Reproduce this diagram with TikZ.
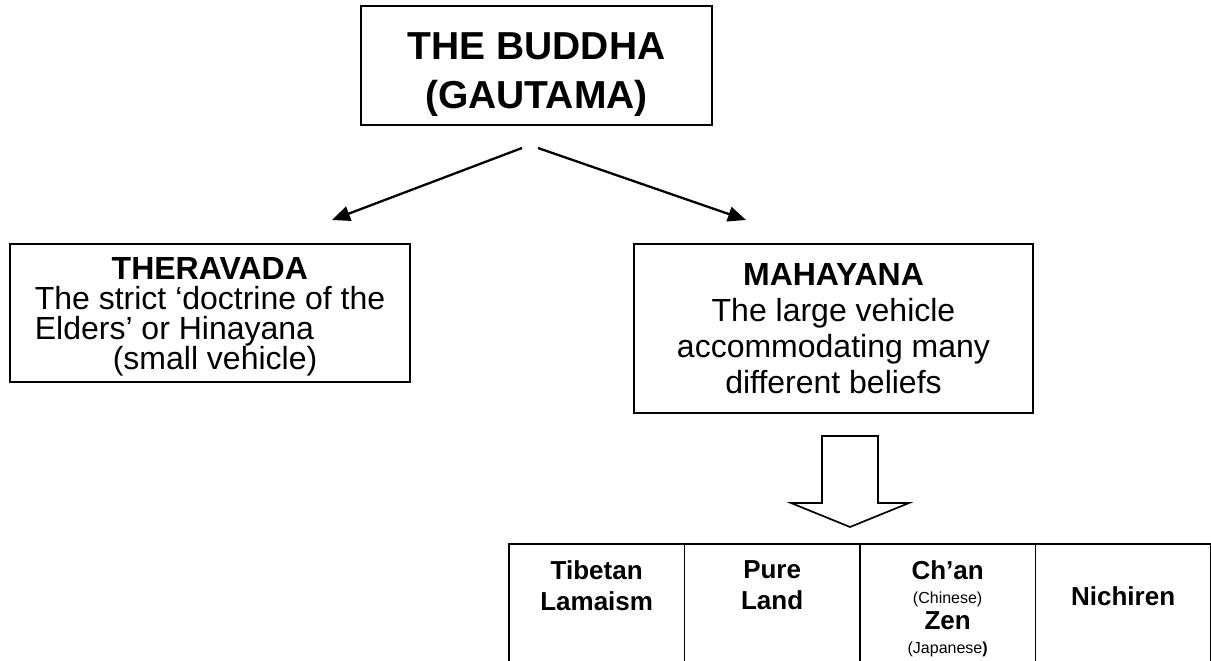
\documentclass[tikz,border=0pt]{standalone}
\usepackage{fontspec}
\setmainfont{Liberation Sans}
\usetikzlibrary{arrows.meta}
\newcommand\tightlines{\lineskiplimit -50pt\relax}

\begin{document}
\begin{tikzpicture}[x=1pt, y=-1pt,
    box/.style={draw, line width=1.6pt, inner sep=0pt, align=center},
    body/.style={inner sep=0pt, font=\fontsize{32}{36}\selectfont\tightlines},
    branch/.style={line width=2.3pt, -{Triangle[length=18pt, width=15pt]}},
    cell/.style={draw, line width=1.8pt, minimum width=175.5pt, minimum height=140pt, anchor=north west, inner sep=0pt},
    celltext/.style={anchor=north, align=center, inner sep=0pt, font=\fontsize{26}{31}\selectfont\bfseries}
]
\useasboundingbox (0,0) rectangle (1211,661);
% founder
\node[box, minimum width=351pt, minimum height=119pt] (buddha) at (536.5,65.5) {};
\node[align=center, inner sep=0pt, font=\fontsize{39}{49}\selectfont\bfseries] (buddha text) at (536.5,75) {THE BUDDHA\\(GAUTAMA)};
% the two schools
\node[box, minimum width=400pt, minimum height=138pt] (theravada) at (210,313) {};
\node[body, align=left, font=\fontsize{32}{30}\selectfont\tightlines] (theravada text) at (210,316.5)
    {\makebox[350pt]{\bfseries THERAVADA}\\The strict ‘doctrine of the\\Elders’ or Hinayana\\\hspace*{78pt}(small vehicle)};
\node[box, body, minimum width=399pt, minimum height=169pt] (mahayana) at (833.5,328.5)
    {\textbf{MAHAYANA}\\The large vehicle\\accommodating many\\different beliefs};
\coordinate (fork l) at (522,148);
\coordinate (fork r) at (538,148);
\coordinate (thera in) at (332,220);
\coordinate (maha in) at (746,220);
\draw[branch] (fork l) -- (thera in);
\draw[branch] (fork r) -- (maha in);
% hollow block arrow
\draw[line width=1.7pt, line join=miter] (822,436) -- (878,436) -- (878,503) -- (909,503) -- (850,527) -- (791,503) -- (822,503) -- cycle;
% branches of mahayana
\foreach \cname [count=\i from 0] in {tibetan,pureland,chan,nichiren}
    \node[cell] (\cname) at (508+175.5*\i,543) {};
\node[celltext] (tibetan text) at ([yshift=-17pt]tibetan.north) {Tibetan\\Lamaism};
\node[celltext] (pureland text) at ([yshift=-17pt]pureland.north) {Pure\\Land};
\node[celltext, font=\fontsize{26}{24}\selectfont\bfseries] (chan text) at ([yshift=-17pt]chan.north)
    {Ch’an\\{\mdseries\fontsize{16}{18}\selectfont (Chinese)}\\[2pt]Zen\\{\mdseries\fontsize{16}{18}\selectfont (Japanese}\textbf{\fontsize{16}{18}\selectfont)}};
\node[celltext] (nichiren text) at ([yshift=-43pt]nichiren.north) {Nichiren};
\end{tikzpicture}
\end{document}
